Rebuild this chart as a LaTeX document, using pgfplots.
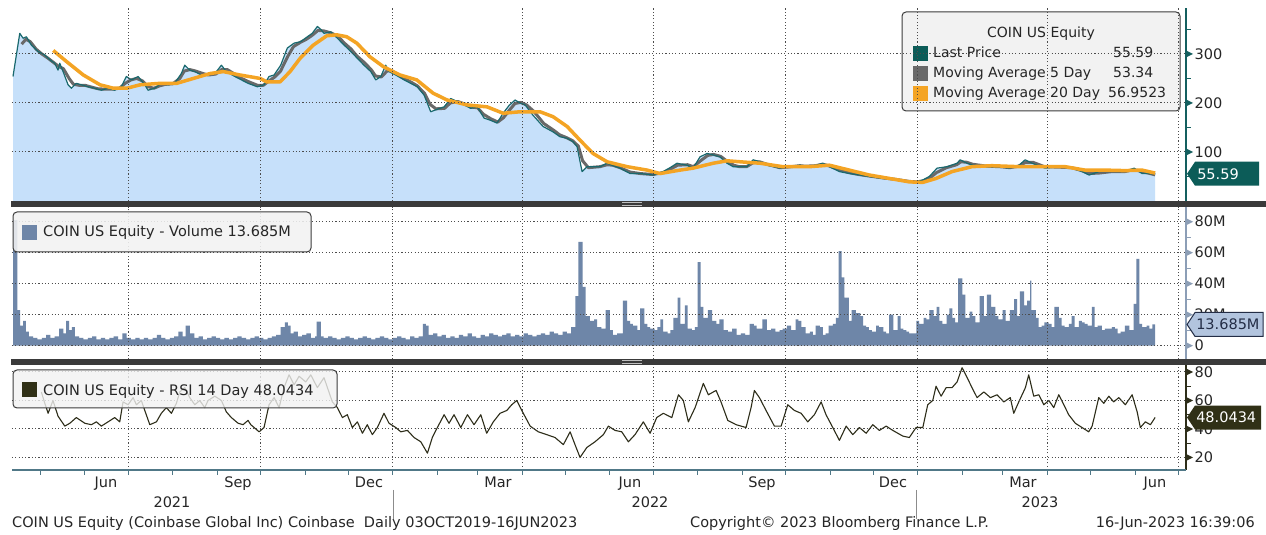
\documentclass[border=0pt]{standalone}
\usepackage{pgfplots}
\usepackage{pgfplotstable}
\pgfplotsset{compat=1.18}
\usepackage{fontspec}
\setmainfont{DejaVu Sans}
\definecolor{pricefill}{RGB}{198,224,250}
\definecolor{pricec}{RGB}{25,105,110}
\definecolor{lastsq}{RGB}{12,92,88}
\definecolor{ma5c}{RGB}{105,105,105}
\definecolor{ma20c}{RGB}{244,164,36}
\definecolor{volc}{RGB}{110,134,168}
\definecolor{rsic}{RGB}{45,45,25}
\definecolor{rsitag}{RGB}{48,48,22}
\definecolor{bandc}{RGB}{58,58,58}
\definecolor{spinep}{RGB}{20,95,95}
\definecolor{spinev}{RGB}{140,158,182}
\definecolor{axisc}{RGB}{80,120,135}
\definecolor{legfill}{RGB}{242,242,242}
\definecolor{legdraw}{RGB}{60,60,60}
\definecolor{voltag}{RGB}{178,196,222}
\definecolor{voltagd}{RGB}{35,45,70}
\newcommand\f{\fontsize{14.5}{17}\selectfont}
\newcommand\fl{\fontsize{14}{17}\selectfont}

\pgfplotstableread{
d v
101 254
105.7 342
108 332
110.3 335
113.8 318
118.4 305
123 298
126.6 288
130 281
132.3 267
133.5 281
135.8 264
139.3 237
141.6 230
145 240
148.5 237
153.2 233
157.8 230
162.4 226
167 230
171.7 226
176.3 233
179.8 254
183.3 247
188 254
192.6 237
194.9 226
199.5 230
204.1 240
208.8 237
213.4 240
218 260
220.4 277
223.9 267
227.4 264
232 257
236.6 257
241.3 260
245.9 277
249.3 264
255.2 254
259.8 247
264.4 240
270.9 233
275.5 237
279 254
282.5 257
287.1 277
291.7 312
296.4 322
301 325
305.6 335
309 342
312.6 356
315 350
317.2 342
321.9 345
326.5 332
331.2 318
335.8 305
340.4 291
345 277
349.7 264
353.2 247
356.7 254
360.1 277
362.4 264
367.1 257
372.9 247
377.5 240
382.1 233
386.8 216
391.4 182
394.9 186
400.7 192
405.3 209
409.9 203
414.6 196
419.2 189
423.8 192
428.5 169
432.6 165
437.5 159
441.7 179
445.9 195
450 206
453.5 200
457 196
462.5 175
469.5 152
476.4 141
481.3 131
486.2 128
490.3 121
493.1 111
496.6 60
500.1 70
509.1 70
514 77
518.2 72
523 67
530 56
537 56
546 53
552.9 60
557.8 68
562.6 77
569.6 73
573.8 67
578.6 90
583.5 97
587.7 94
592.5 90
597.4 77
601.6 70
606.4 70
611.3 70
615.5 84
620.4 80
625.2 73
634.3 67
639.1 70
648.2 73
652.3 70
659.3 73
663.9 77
668.5 70
675.5 60
682.4 56
689.4 53
696.3 50
705.6 46
714.9 43
724.1 39
728.8 39
733.5 43
738 50
743.4 67
750.4 70
757.3 77
759.4 84
764.3 77
768.4 73
778.2 70
787.2 70
793.5 67
800.4 73
804.6 84
809.5 77
818.5 67
828.2 70
837.3 67
844.2 60
849.1 53
856 60
865.1 60
874.1 60
880.4 67
885.9 56
895 55.59
}\pricetab

\pgfplotstableread{
d v
107 320
110 330
113 325
117 310
121 300
125 292
129 283
133 274
136 270
140 250
143 238
147 236
151 236
156 232
160 229
165 228
170 228
175 230
179 240
183 247
187 250
191 245
195 233
199 230
203 235
207 238
212 239
217 250
220 265
224 268
228 265
233 260
237 257
242 259
246 268
250 268
255 259
260 250
265 243
271 236
275 236
279 245
283 253
287 265
292 295
296 315
301 324
305 330
309 338
313 348
317 347
322 343
327 336
331 323
336 310
340 296
345 283
350 268
353 255
357 253
361 265
364 266
368 259
373 250
378 242
382 235
387 220
391 197
395 188
401 189
405 200
410 203
415 198
419 192
424 190
428 177
433 168
438 161
442 170
446 185
450 199
454 201
458 196
463 183
470 158
477 144
481 135
486 129
490 123
494 112
497 82
501 68
509 70
514 74
518 73
523 68
530 59
537 56
546 54
553 58
558 65
563 73
570 74
574 70
579 82
584 93
588 95
593 91
597 82
602 73
606 70
611 70
616 79
620 80
625 75
634 68
639 69
648 72
652 71
659 72
664 75
668 72
676 63
682 58
689 54
696 51
706 47
715 44
724 40
729 39
734 41
738 46
743 58
750 68
757 74
760 80
764 79
768 75
778 71
787 70
794 68
800 71
805 79
810 79
818 70
828 69
837 68
844 62
849 56
856 57
865 60
874 60
880 64
886 60
895 53.34
}\mafivetab

\pgfplotstableread{
d v
129 307
138.4 284
149.9 257
161.5 237
170.8 230
180.1 230
189.3 237
203.2 240
214.8 240
226.4 250
238 260
247.2 264
258.8 257
272.8 250
277.4 243
286.7 243
293.6 264
300.6 291
309.8 318
319.1 337
326.1 339
333 335
340 322
349.2 294
358.5 274
370.1 257
381.7 247
393 220
402.8 206
416.7 196
430.6 192
441.7 179
453.5 182
467.4 182
476.4 172
486.2 152
495.2 124
504.2 97
514 80
527.9 70
541.8 63
550.8 56
564.7 63
573.8 67
587.7 77
597.4 82
606.4 80
620.4 77
636.1 70
654.6 70
668.5 73
682.4 63
696.3 53
710.2 46
724.1 39
733.5 38
742.7 46
753.8 60
767.7 70
781.6 72
800.4 70
818.5 70
832.4 70
846.3 63
860.2 63
874.1 62
885.9 63
895 56.95
}\matwentytab

\pgfplotstableread{
d v
101 81
104 23
106 13
108 16
110 9
112 6
115 5
118 4
121 5
124 7
127 5
130 6
133 11
136 8
138 16
140 10
142 12
144 6
147 5
150 4
153 5
156 6
159 4
162 5
165 4
168 5
171 6
174 4
177 8
180 5
183 4
186 5
189 4
192 5
195 4
198 5
201 7
204 5
207 4
210 5
213 6
216 9
219 6
221 13
224 8
227 5
230 6
233 4
236 5
239 6
242 5
245 4
248 5
251 4
254 5
257 6
260 5
263 4
266 5
269 6
272 5
275 4
278 5
281 6
284 7
287 12
290 15
292 13
294 8
296 9
299 6
302 7
305 8
308 5
311 6
312 15.5
315 6
317 5
320 6
323 5
326 4
329 5
332 6
335 5
338 4
341 5
344 6
347 5
350 4
353 5
356 6
359 5
362 4
365 5
368 6
371 5
374 4
377 6
380 5
383 6
386 14
388 13
390 7
393 8
396 6
399 7
402 5
405 6
408 5
411 7
414 6
417 8
420 6
423 5
426 7
429 6
432 8
435 7
438 6
441 7
444 8
447 6
450 7
453 6
456 8
459 7
462 6
465 7
468 8
471 7
474 9
477 8
480 7
483 9
486 8
489 12
492 32
494 67
497 38
499 19
502 16
505 17
507 12
510 11
513 23
516 10
518 7
521 8
525 29
528 16
530 14
532 13
535 10
537 24
540 14
542 12
544 11
547 10
549 12
551 17
553 9
556 8
558 10
560 18
563 31
565 14
568 26
570 11
573 10
575 12
577 54
579 25
581 18
584 23
587 16
590 14
592 17
595 10
598 9
601 11
604 7
607 8
610 7
613 14
616 13
618 11
622 17
625 10
628 11
631 9
634 10
636 11
639 13
642 10
645 17
647 16
649 12
652 8
655 9
657 7
659 13
662 12
664 7
666 8
668 13
671 14
673 18
675 61
677 44
679 31
682 16
684 23
687 21
690 19
692 13
694 12
696 10
698 9
701 13
703 12
706 9
708 8
710 20
713 10
716 19
718 11
720 10
722 9
724 8
726 8
729 16
731 14
734 18
736 17
738 23
741 19
743 25
745 16
747 14
750 20
752 24
754 18
756 15
758 43.5
761 33
763 18
766 22
768 19
770 15
773 32
776 19
778 33
781 25
784 19
786 17
789 23
791 16
794 23
797 30
799 19
801 35
804 26
806 29
808 42
809 23
812 18
814 12
816 13
818 15
821 14
823 12
825 25
828 18
830 13
832 12
835 14
837 19
839 12
842 16
844 15
846 14
848 13
851 25
853 12
855 13
858 10
860 11
862 11
865 12
867 11
869 8
871 9
874 13
877 10
880 27
882 56
884 14
886 12
889 13
891 11
893 13.685
895 13.685
}\voltab

\pgfplotstableread{
d v
120.7 66
123.1 58
125.4 51
128.8 60
132.3 49
137 42
140.5 44
145 48
150.9 44
155.5 43
159 45
162.4 42
167.1 45
171.7 48
175.2 45
177.5 59
181 57
184.5 62
186.8 57
190.2 60
192.6 53
196.1 43
200.7 45
204.1 51
207.6 55
211.1 51
214.6 58
216.9 66
220.4 69
223.9 62
227.4 57
230.8 60
234.3 55
236.6 60
241.3 63
245.9 60
249.3 52
252.8 48
257.5 44
260.9 43
264.4 46
266.3 43
272.1 38
275.5 41
279 57
282.5 62
286 55
289.4 69
292.9 78
296.4 71
299.9 77
304.5 73
308 78
312.6 69
317.2 76
323 59
326.5 55
330 48
333.4 50
336.9 41
340.4 45
343.9 37
347.3 43
350.8 36
354.3 41
358.9 51
362.4 44
367.1 41
370.6 38
375.2 39
379.8 34
384.5 31
389.1 23
392.5 34
396 41
400.7 50
404.1 44
407.6 50
412.3 41
416.9 50
421.5 43
426.2 50
430.3 37
434.9 45
439.6 51
444.3 53
447.7 57
451.2 60
454.7 53
460.5 42
466.2 38
472.1 36
477.8 34
483.6 29
488.3 38
491.7 29
495.2 20
499.9 27
505.6 31
511.4 36
514.9 42
519.5 39
524.2 38
528.8 31
533.4 36
539.2 45
543.9 37
548.5 48
553.1 51
559 48
563.6 64
567 60
570.5 45
575.2 55
580.9 72
584.4 64
587.9 66
589.8 67
593.2 59
597.9 46
603.7 43
610.6 41
614.1 55
616.4 67
619.9 62
624.5 53
630.3 42
635 42
639.6 57
644.2 53
648.9 51
653.5 45
658.1 50
662.8 59
666.2 50
670.9 41
675.5 32
680.2 42
684.8 36
689.4 41
694.1 37
698.7 43
703.3 39
708 42
712.6 39
719.6 35
724.1 34
728.8 41
733.5 41
736.9 57
740.4 60
742.7 70
746.2 63
749.7 69
753.8 69
757.3 73
760.8 83
764.3 76
767.7 69
771.2 62
775.9 66
780.5 62
785.1 64
789.8 59
794.3 62
796.7 51
800.2 59
804.8 69
807.1 78
810.6 63
814.1 64
817.6 57
821.1 60
824.5 55
828 64
831.5 57
834.9 50
839.5 44
844.2 41
848.8 38
851.2 42
855.8 62
859.3 58
862.8 63
866.2 59
869.7 62
874.3 57
879 64
882.5 52
884.7 41
888.2 45
891.7 43
895 48.0434
}\rsitab

\pgfplotsset{
  panel/.style={
    scale only axis, anchor=south west, width=1174pt,
    xmin=100.3, xmax=916.5,
    axis on top, clip mode=individual,
    axis line style={draw=none},
    tick style={draw=none},
    xtick={181,273,365,455,546,638,730,820,911}, xticklabels={},
    xmajorgrids, ymajorgrids,
    grid style={black!70, line width=1pt, dash pattern=on 1.1pt off 2.2pt},
    ytick pos=right,
    yticklabel style={font=\f, text=black!85, anchor=west, xshift=5pt},
    /pgf/number format/assume math mode=true,
  }
}

\begin{document}
\begin{tikzpicture}[x=1pt,y=1pt]
\useasboundingbox (0,0) rectangle (1266,535);
\fill[white] (0,0) rectangle (1266,535);

% price legend (behind grid)
\draw[fill=legfill, draw=legdraw, line width=1pt, rounded corners=4pt] (902,424) rectangle (1180,523);
\node[font=\fl, anchor=base, text=black!85] at (1041,497) {COIN US Equity};
\fill[lastsq] (913,474) rectangle (928,489);
\fill[ma5c] (913,454) rectangle (928,469);
\fill[ma20c] (913,434) rectangle (928,449);
\node[font=\fl, anchor=base west, inner sep=0pt, text=black!85] at (933,477) {Last Price};
\node[font=\fl, anchor=base west, inner sep=0pt, text=black!85] at (933,457) {Moving Average 5 Day};
\node[font=\fl, anchor=base west, inner sep=0pt, text=black!85] at (933,437) {Moving Average 20 Day};
\node[font=\fl, anchor=base west, inner sep=0pt, text=black!85] at (1113,477) {55.59};
\node[font=\fl, anchor=base west, inner sep=0pt, text=black!85] at (1113,457) {53.34};
\node[font=\fl, anchor=base west, inner sep=0pt, text=black!85] at (1108,437) {56.9523};

% ---------- price panel ----------
\begin{axis}[panel, at={(12pt,334pt)}, height=193pt,
  ymin=0, ymax=393.7, ytick={100,200,300}, yticklabels={100,200,300}]
\addplot[fill=pricefill, draw=none] table {\pricetab} \closedcycle;
\addplot[ma5c, line width=3pt, line join=round] table {\mafivetab};
\addplot[pricec, line width=1.2pt, line join=round] table {\pricetab};
\addplot[ma20c, line width=3.5pt, line join=round] table {\matwentytab};
\pgfplotsinvokeforeach{100,200,300}{\fill[spinep] (axis cs:916.5,#1) ++(0pt,3.5pt) -- ++(7pt,-3.5pt) -- ++(-7pt,-3.5pt) -- cycle;}
\pgfplotsinvokeforeach{50,150,250,350}{\draw[spinep,line width=1pt] (axis cs:916.5,#1) -- ++(5pt,0pt);}
\coordinate (lastP) at (axis cs:916.5,55.59);
\end{axis}

% ---------- volume panel ----------
\begin{axis}[panel, at={(12pt,176pt)}, height=152pt,
  ymin=-8.6, ymax=89.5, ytick={0,20,40,60,80}, yticklabels={0,20M,40M,60M,80M}]
\addplot[const plot mark left, fill=volc, draw=none] table {\voltab} \closedcycle;
\pgfplotsinvokeforeach{0,20,40,60,80}{\fill[spinev] (axis cs:916.5,#1) ++(0pt,3.5pt) -- ++(7pt,-3.5pt) -- ++(-7pt,-3.5pt) -- cycle;}
\pgfplotsinvokeforeach{10,30,50,70}{\draw[spinev,line width=1pt] (axis cs:916.5,#1) -- ++(5pt,0pt);}
\coordinate (lastV) at (axis cs:916.5,13.685);
\end{axis}

% ---------- RSI panel ----------
\begin{axis}[panel, at={(12pt,65pt)}, height=105pt,
  ymin=11.2, ymax=84.9, ytick={20,40,60,80}, yticklabels={20,40,60,80}]
\addplot[rsic, line width=1.1pt, line join=round] table {\rsitab};
\pgfplotsinvokeforeach{20,40,60,80}{\fill[rsic] (axis cs:916.5,#1) ++(0pt,3.5pt) -- ++(7pt,-3.5pt) -- ++(-7pt,-3.5pt) -- cycle;}
\pgfplotsinvokeforeach{30,50,70}{\draw[rsic,line width=1pt] (axis cs:916.5,#1) -- ++(5pt,0pt);}
\pgfplotsinvokeforeach{120,151,181,212,243,273,304,334,365,396,424,455,485,516,546,577,608,638,669,699,730,761,789,820,850,881,911}{\draw[axisc,line width=1pt] (axis cs:#1,11.2) -- ++(0pt,-5pt);}
\coordinate (lastR) at (axis cs:916.5,48.0434);
\end{axis}

% spines and bands
\draw[spinep, line width=1.3pt] (1186,334) -- (1186,527);
\draw[spinev, line width=1.3pt] (1186,176) -- (1186,328);
\draw[rsic, line width=1.3pt] (1186,65) -- (1186,170);
\draw[axisc, line width=1.3pt] (12,65) -- (1186,65);
\fill[bandc] (11,328) rectangle (1266,334);
\fill[bandc] (11,170) rectangle (1266,176);
\draw[white!75!black, line width=0.6pt] (622,332.2) -- (642,332.2) (622,329.8) -- (642,329.8);
\draw[white!75!black, line width=0.6pt] (622,174.2) -- (642,174.2) (622,171.8) -- (642,171.8);

% volume & RSI legends
\draw[fill=legfill, fill opacity=0.88, draw=legdraw, line width=1pt, rounded corners=4pt] (13,283) rectangle (311,323);
\fill[volc] (22,295) rectangle (37,310);
\node[font=\f, anchor=base west, inner sep=0pt, text=black!85] at (43,298) {COIN US Equity - Volume 13.685M};
\draw[fill=legfill, fill opacity=0.8, draw=legdraw, line width=1pt, rounded corners=4pt] (13,127) rectangle (337,165);
\fill[rsitag] (22,138) rectangle (37,153);
\node[font=\f, anchor=base west, inner sep=0pt, text=black!85] at (43,139) {COIN US Equity - RSI 14 Day 48.0434};

% last value tags
\fill[lastsq] ([xshift=1pt]lastP) -- ++(8pt,12pt) -- ++(64pt,0pt) -- ++(0pt,-24pt) -- ++(-64pt,0pt) -- cycle;
\node[anchor=west, text=white, font=\f, inner sep=0pt] at ([xshift=11pt]lastP) {55.59};
\draw[fill=voltag, draw=voltagd, line width=1pt] ([xshift=1pt]lastV) -- ++(8pt,12pt) -- ++(68pt,0pt) -- ++(0pt,-24pt) -- ++(-68pt,0pt) -- cycle;
\node[anchor=west, text=voltagd, font=\f, inner sep=0pt] at ([xshift=10pt]lastV) {13.685M};
\fill[rsitag] ([xshift=1pt]lastR) -- ++(8pt,12pt) -- ++(66pt,0pt) -- ++(0pt,-24pt) -- ++(-66pt,0pt) -- cycle;
\node[anchor=west, text=white, font=\f, inner sep=0pt] at ([xshift=10pt]lastR) {48.0434};

% month and year labels
\foreach \px/\m in {106/Jun,238/Sep,369/Dec,498/Mar,630/Jun,762/Sep,893/Dec,1023/Mar,1155/Jun}
  \node[font=\f, anchor=base, text=black!85, inner sep=0pt] at (\px,47) {\m};
\node[font=\f, anchor=base, text=black!85, inner sep=0pt] at (172,27) {2021};
\node[font=\f, anchor=base, text=black!85, inner sep=0pt] at (650,27) {2022};
\node[font=\f, anchor=base, text=black!85, inner sep=0pt] at (1040,27) {2023};
\draw[black!45, line width=0.8pt] (393,45) -- (393,16);
\draw[black!45, line width=0.8pt] (916,45) -- (916,16);

% footer
\node[font=\f, anchor=base west, inner sep=0pt, text=black!85] at (12,7) {COIN US Equity (Coinbase Global Inc) Coinbase\ \ Daily 03OCT2019-16JUN2023};
\node[font=\f, anchor=base west, inner sep=0pt, text=black!85] at (690,7) {Copyright© 2023 Bloomberg Finance L.P.};
\node[font=\f, anchor=base east, inner sep=0pt, text=black!85] at (1255,7) {16-Jun-2023 16:39:06};
\end{tikzpicture}
\end{document}
